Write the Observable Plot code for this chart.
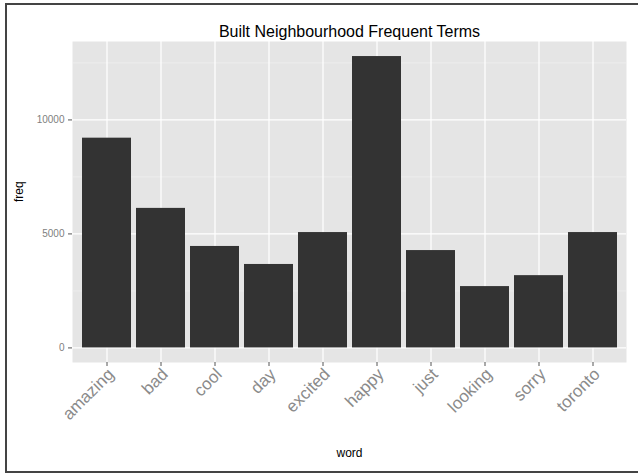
<!DOCTYPE html>
<html><head><meta charset="utf-8">
<script src="https://cdn.jsdelivr.net/npm/d3@7"></script>
<script src="https://cdn.jsdelivr.net/npm/@observablehq/plot@0.6"></script>
<style>
body{margin:0;background:#fff;}
#wrap{position:relative;width:638px;height:474px;overflow:hidden;}
#border{position:absolute;left:5px;top:3px;width:650px;height:470px;border:2px solid #444;box-sizing:border-box;pointer-events:none;}
svg{display:block;}
</style></head><body><div id="wrap"><div id="border"></div></div>
<script>
const words = ["amazing","bad","cool","day","excited","happy","just","looking","sorry","toronto"];
const freqs = [9200, 6120, 4450, 3660, 5060, 12780, 4270, 2690, 3170, 5060];
const yTicks = [0, 5000, 10000];
const yMinor = [2500, 7500, 12500];
const title = "Built Neighbourhood Frequent Terms";
const xTitle = "word";
const yTitle = "freq";

const data = words.map((w, i) => ({word: w, freq: freqs[i]}));

const plot = Plot.plot({
  width: 638, height: 474,
  marginLeft: 72, marginRight: 12, marginTop: 41, marginBottom: 112,
  style: {fontFamily: "'Liberation Sans', Arial, sans-serif", background: "transparent"},
  x: {domain: words, paddingInner: 0.1, paddingOuter: 0.15},
  y: {domain: [-640, 13440]},
  marks: [
    Plot.frame({fill: "#E5E5E5", stroke: null}),
    Plot.ruleY(yMinor, {stroke: "#F2F2F2", strokeWidth: 0.6}),
    Plot.ruleY(yTicks, {stroke: "#FFFFFF", strokeWidth: 1.2}),
    Plot.gridX({stroke: "#FFFFFF", strokeOpacity: 1, strokeWidth: 1.2}),
    Plot.barY(data, {x: "word", y: "freq", fill: "#333333"}),
    Plot.axisY(yTicks, {tickSize: 4, tickPadding: 4, tickFormat: d => String(d), fontSize: 10, fill: "#808080", stroke: "#555555", label: null}),
    Plot.axisX({tickSize: 4, tickFormat: () => "", stroke: "#555555", label: null}),
    Plot.axisX({tickRotate: -45, tickSize: 0, tickPadding: 6, dx: 4, dy: 3, fontSize: 17, fill: "#8a8a8a", label: null}),
    Plot.text([title], {text: d => d, frameAnchor: "top", dy: -10, lineAnchor: "middle", fontSize: 16, fill: "#000"}),
    Plot.text([yTitle], {text: d => d, frameAnchor: "left", dx: -53, rotate: -90, lineAnchor: "middle", fontSize: 12, fill: "#000"}),
    Plot.text([xTitle], {text: d => d, frameAnchor: "bottom", dy: 91, lineAnchor: "middle", fontSize: 12, fill: "#000"})
  ]
});
document.getElementById("wrap").prepend(plot);
</script>
</body></html>
